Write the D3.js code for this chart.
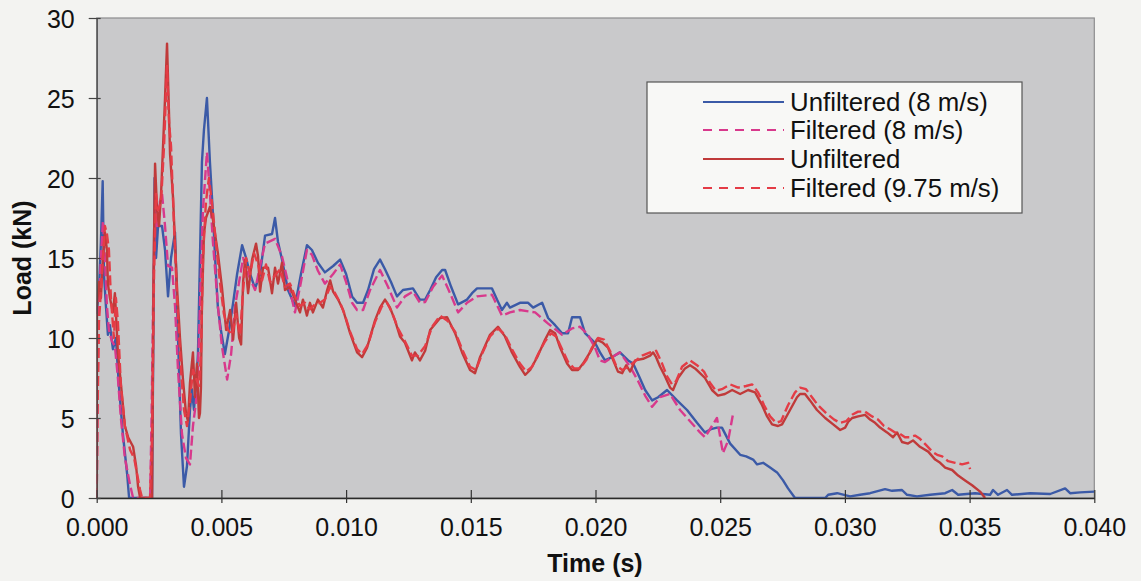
<!DOCTYPE html>
<html>
<head>
<meta charset="utf-8">
<script src="https://cdn.jsdelivr.net/npm/d3@7/dist/d3.min.js"></script>
<style>
  html, body { margin: 0; padding: 0; background: #f3f3f1; }
  svg { display: block; font-family: "Liberation Sans", Arial, sans-serif; }
</style>
</head>
<body>
<svg id="chart" width="1141" height="581"></svg>
<script>
// Load history of the impact tests: time in seconds, load in kN.
const unfiltered8Time = [0, 0.00009, 0.00017, 0.00024, 0.00029, 0.00037, 0.00045, 0.00053, 0.00065, 0.00077,
  0.00089, 0.00105, 0.00122, 0.00130, 0.00222, 0.00226, 0.00232, 0.00238, 0.00246, 0.00254,
  0.00262, 0.00274, 0.00286, 0.00298, 0.00314, 0.00326, 0.00338, 0.00350, 0.00362, 0.00374,
  0.00382, 0.00390, 0.00398, 0.00406, 0.00414, 0.00422, 0.00430, 0.00442, 0.00454, 0.00466,
  0.00478, 0.00486, 0.00498, 0.00514, 0.00531, 0.00547, 0.00563, 0.00583, 0.00599, 0.00615,
  0.00635, 0.00655, 0.00675, 0.00703, 0.00715, 0.00727, 0.00743, 0.00767, 0.00795, 0.00819,
  0.00843, 0.00863, 0.00887, 0.00915, 0.00948, 0.00976, 0.01000, 0.01024, 0.01044, 0.01068,
  0.01088, 0.01112, 0.01136, 0.01156, 0.01180, 0.01204, 0.01228, 0.01268, 0.01296, 0.01317,
  0.01337, 0.01361, 0.01385, 0.01397, 0.01421, 0.01449, 0.01485, 0.01505, 0.01525, 0.01585,
  0.01605, 0.01625, 0.01645, 0.01657, 0.01697, 0.01730, 0.01750, 0.01786, 0.01810, 0.01838,
  0.01866, 0.01890, 0.01906, 0.01938, 0.01958, 0.01998, 0.02018, 0.02038, 0.02066, 0.02098,
  0.02131, 0.02151, 0.02175, 0.02199, 0.02227, 0.02251, 0.02287, 0.02327, 0.02367, 0.02407,
  0.02439, 0.02463, 0.02487, 0.02507, 0.02540, 0.02580, 0.02604, 0.02632, 0.02648, 0.02672,
  0.02700, 0.02728, 0.02752, 0.02772, 0.02800, 0.02921, 0.02933, 0.02969, 0.03021, 0.03061,
  0.03101, 0.03161, 0.03189, 0.03229, 0.03249, 0.03289, 0.03342, 0.03402, 0.03430, 0.03454,
  0.03522, 0.03582, 0.03594, 0.03614, 0.03650, 0.03670, 0.03743, 0.03823, 0.03883, 0.03903,
  0.03943, 0.04000];
const unfiltered8Load = [11.5, 13, 16, 19.8, 14, 12, 10.2, 10.8, 9.3, 10,
  7, 4, 1.5, 0, 0, 8, 20, 15, 17, 17,
  17, 15.5, 12.6, 15, 16.6, 10, 4, 0.7, 2, 5.5,
  6.8, 5.5, 7, 9, 15, 21, 23, 25, 21, 17.8,
  14, 11.9, 10.5, 9, 10.5, 12.2, 14, 15.8, 15, 14,
  13.1, 14, 16.4, 16.5, 17.5, 16, 14.9, 13, 12, 14,
  15.8, 15.5, 14.7, 14.1, 14.5, 14.9, 14, 12.6, 12.2, 12.2,
  13, 14.3, 14.9, 14.3, 13.5, 12.6, 13, 13.1, 12.4, 12.4,
  13, 13.8, 14.25, 14.25, 13.2, 12.1, 12.4, 12.8, 13.1, 13.1,
  12.4, 11.75, 12.2, 11.9, 12.2, 12.2, 11.9, 12.2, 11.25, 10.8,
  10.3, 10.3, 11.3, 11.3, 10.3, 9.7, 9.1, 8.6, 8.8, 9.1,
  8.6, 8.4, 7.6, 6.75, 6.1, 6.3, 6.75, 6.1, 5.5, 4.7,
  4.1, 4.3, 4.4, 4.4, 3.4, 2.7, 2.6, 2.4, 2.1, 2.2,
  1.9, 1.6, 1.1, 0.6, 0, 0, 0.2, 0.3, 0.1, 0.2,
  0.3, 0.55, 0.45, 0.5, 0.2, 0.1, 0.2, 0.3, 0.5, 0.2,
  0.3, 0.2, 0.5, 0.2, 0.5, 0.2, 0.3, 0.25, 0.6, 0.3,
  0.35, 0.4];

const filtered8Time = [0, 0.00003, 0.00009, 0.00017, 0.00025, 0.00033, 0.00041, 0.00049, 0.00061, 0.00073,
  0.00085, 0.00097, 0.00113, 0.00134, 0.00146, 0.00214, 0.00220, 0.00226, 0.00234, 0.00242,
  0.00254, 0.00262, 0.00274, 0.00286, 0.00302, 0.00314, 0.00326, 0.00342, 0.00358, 0.00374,
  0.00386, 0.00398, 0.00406, 0.00414, 0.00426, 0.00442, 0.00454, 0.00466, 0.00486, 0.00502,
  0.00523, 0.00539, 0.00555, 0.00571, 0.00587, 0.00607, 0.00635, 0.00655, 0.00675, 0.00715,
  0.00743, 0.00767, 0.00795, 0.00819, 0.00843, 0.00863, 0.00887, 0.00915, 0.00948, 0.00976,
  0.01000, 0.01024, 0.01044, 0.01068, 0.01096, 0.01136, 0.01168, 0.01204, 0.01236, 0.01268,
  0.01296, 0.01317, 0.01349, 0.01385, 0.01417, 0.01449, 0.01485, 0.01525, 0.01585, 0.01625,
  0.01657, 0.01697, 0.01758, 0.01810, 0.01866, 0.01906, 0.01938, 0.01970, 0.01998, 0.02018,
  0.02038, 0.02066, 0.02098, 0.02139, 0.02171, 0.02199, 0.02227, 0.02259, 0.02299, 0.02339,
  0.02379, 0.02419, 0.02439, 0.02467, 0.02487, 0.02511, 0.02532, 0.02552];
const filtered8Load = [0, 6, 12, 15, 17.3, 15, 12, 10.5, 9.8, 9.5,
  7.5, 5, 2.5, 0.8, 0, 0, 5, 12, 18, 17,
  18.5, 19, 17, 14.5, 14.4, 12, 8, 4, 2.5, 2.1,
  4.5, 6, 8, 12, 18, 21.6, 19, 16, 12, 9.5,
  7.4, 9, 12, 13.5, 15, 14, 13, 14.5, 15.9, 16.2,
  15.1, 13.5, 11.6, 13.5, 15.5, 15.2, 14.2, 13.4, 14, 14.6,
  13.5, 12.2, 11.75, 11.75, 13, 14.25, 13.2, 11.9, 12.6, 12.9,
  12.2, 12.25, 13.2, 13.9, 12.8, 11.6, 12.2, 12.6, 12.7, 11.4,
  11.6, 11.75, 11.6, 10.9, 10.2, 10.6, 10.7, 10.2, 9.4, 8.6,
  8.5, 8.8, 9.1, 8.2, 7.3, 6.4, 5.7, 6.3, 6.5, 5.5,
  4.8, 4.1, 3.8, 4.5, 5, 2.8, 3.6, 5.3];

const unfiltered975Time = [0, 0.00001, 0.00009, 0.00017, 0.00025, 0.00033, 0.00041, 0.00045, 0.00053, 0.00065,
  0.00073, 0.00085, 0.00101, 0.00113, 0.00126, 0.00146, 0.00158, 0.00166, 0.00174, 0.00222,
  0.00228, 0.00234, 0.00242, 0.00250, 0.00258, 0.00266, 0.00274, 0.00282, 0.00290, 0.00294,
  0.00306, 0.00322, 0.00334, 0.00346, 0.00358, 0.00366, 0.00374, 0.00386, 0.00394, 0.00402,
  0.00410, 0.00414, 0.00418, 0.00422, 0.00430, 0.00438, 0.00454, 0.00466, 0.00486, 0.00502,
  0.00519, 0.00535, 0.00547, 0.00559, 0.00571, 0.00579, 0.00587, 0.00595, 0.00607, 0.00623,
  0.00639, 0.00647, 0.00655, 0.00667, 0.00687, 0.00703, 0.00715, 0.00727, 0.00743, 0.00755,
  0.00775, 0.00795, 0.00815, 0.00827, 0.00843, 0.00855, 0.00867, 0.00887, 0.00907, 0.00924,
  0.00936, 0.00948, 0.00968, 0.00988, 0.01016, 0.01044, 0.01064, 0.01084, 0.01116, 0.01136,
  0.01156, 0.01176, 0.01196, 0.01216, 0.01236, 0.01264, 0.01276, 0.01296, 0.01317, 0.01337,
  0.01377, 0.01405, 0.01437, 0.01465, 0.01497, 0.01517, 0.01537, 0.01577, 0.01609, 0.01637,
  0.01665, 0.01697, 0.01718, 0.01738, 0.01766, 0.01798, 0.01818, 0.01838, 0.01858, 0.01886,
  0.01906, 0.01930, 0.01950, 0.01978, 0.02006, 0.02030, 0.02050, 0.02066, 0.02090, 0.02107,
  0.02123, 0.02139, 0.02159, 0.02191, 0.02219, 0.02231, 0.02243, 0.02259, 0.02279, 0.02299,
  0.02311, 0.02331, 0.02359, 0.02379, 0.02399, 0.02419, 0.02439, 0.02467, 0.02491, 0.02519,
  0.02548, 0.02580, 0.02612, 0.02640, 0.02668, 0.02688, 0.02708, 0.02732, 0.02748, 0.02780,
  0.02808, 0.02820, 0.02840, 0.02860, 0.02888, 0.02921, 0.02953, 0.02981, 0.03001, 0.03013,
  0.03029, 0.03053, 0.03081, 0.03101, 0.03121, 0.03141, 0.03169, 0.03193, 0.03209, 0.03229,
  0.03253, 0.03273, 0.03301, 0.03334, 0.03362, 0.03382, 0.03402, 0.03430, 0.03454, 0.03482,
  0.03510, 0.03542, 0.03562];
const unfiltered975Load = [0, 12, 13.5, 12.5, 15, 16.6, 15.5, 13.4, 12.5, 11.6,
  12.8, 9.1, 6.5, 4.5, 3.8, 3.2, 2, 0.7, 0, 0,
  14, 20.9, 18, 17, 19, 22, 25, 28.4, 24, 21.5,
  18.8, 13.2, 10, 7.4, 5.3, 4.8, 7.2, 9.1, 6.3, 8.4,
  5, 5.3, 6.9, 12, 16.5, 17.5, 18.2, 17.4, 15.3, 13.2,
  10.5, 11.75, 9.9, 12.2, 10, 9.6, 13.5, 14.9, 12.8, 14.9,
  15.9, 15.1, 12.9, 14.4, 14.4, 12.8, 14.4, 13.4, 14.7, 13,
  13.2, 12.4, 11.6, 12.4, 11.4, 12.2, 11.6, 12.4, 11.9, 13,
  13.6, 12.9, 12.4, 11.75, 10.3, 9.1, 8.8, 9.4, 11.1, 11.9,
  12.4, 11.9, 11.1, 10.1, 9.7, 8.6, 9.1, 8.6, 9.2, 10.5,
  11.25, 11.3, 10.3, 9.1, 8, 7.8, 8.8, 10.2, 10.7, 10.1,
  9.1, 8.2, 7.7, 8, 8.8, 9.9, 10.5, 10.3, 9.4, 8.4,
  8, 8, 8.4, 9.1, 9.9, 9.7, 9.4, 8.8, 7.9, 7.8,
  8.3, 7.9, 8.6, 8.7, 8.9, 9.1, 8.8, 8.2, 7.6, 6.9,
  6.75, 7.5, 8.1, 8.3, 8.1, 7.8, 7.5, 6.75, 6.4, 6.5,
  6.75, 6.5, 6.75, 6.6, 5.8, 5.1, 4.6, 4.5, 4.6, 5.5,
  6.3, 6.5, 6.5, 6.1, 5.5, 5, 4.6, 4.25, 4.4, 4.75,
  5, 5.1, 5.2, 4.9, 4.7, 4.4, 4.1, 3.8, 4.1, 3.5,
  3.4, 3.6, 3.2, 2.9, 2.4, 2.2, 1.9, 1.75, 1.4, 1.1,
  0.8, 0.4, 0];

const filtered975Time = [0, 0.00003, 0.00009, 0.00021, 0.00033, 0.00041, 0.00049, 0.00057, 0.00069, 0.00077,
  0.00085, 0.00097, 0.00113, 0.00134, 0.00150, 0.00162, 0.00174, 0.00182, 0.00214, 0.00222,
  0.00230, 0.00238, 0.00246, 0.00258, 0.00270, 0.00282, 0.00290, 0.00298, 0.00310, 0.00322,
  0.00338, 0.00350, 0.00362, 0.00374, 0.00386, 0.00398, 0.00410, 0.00418, 0.00426, 0.00438,
  0.00450, 0.00462, 0.00478, 0.00494, 0.00510, 0.00527, 0.00543, 0.00559, 0.00575, 0.00587,
  0.00599, 0.00615, 0.00631, 0.00647, 0.00663, 0.00679, 0.00695, 0.00715, 0.00735, 0.00755,
  0.00775, 0.00795, 0.00815, 0.00835, 0.00855, 0.00875, 0.00895, 0.00915, 0.00936, 0.00956,
  0.00976, 0.00996, 0.01016, 0.01044, 0.01064, 0.01088, 0.01116, 0.01144, 0.01164, 0.01184,
  0.01208, 0.01236, 0.01264, 0.01288, 0.01317, 0.01345, 0.01377, 0.01405, 0.01437, 0.01465,
  0.01497, 0.01521, 0.01545, 0.01577, 0.01609, 0.01637, 0.01665, 0.01697, 0.01722, 0.01746,
  0.01770, 0.01798, 0.01822, 0.01842, 0.01866, 0.01890, 0.01914, 0.01938, 0.01962, 0.01986,
  0.02010, 0.02034, 0.02058, 0.02082, 0.02107, 0.02131, 0.02155, 0.02187, 0.02219, 0.02243,
  0.02267, 0.02287, 0.02307, 0.02323, 0.02347, 0.02379, 0.02407, 0.02435, 0.02459, 0.02483,
  0.02507, 0.02540, 0.02572, 0.02604, 0.02628, 0.02652, 0.02676, 0.02700, 0.02724, 0.02744,
  0.02772, 0.02800, 0.02820, 0.02844, 0.02868, 0.02892, 0.02925, 0.02957, 0.02981, 0.03005,
  0.03029, 0.03053, 0.03081, 0.03109, 0.03133, 0.03157, 0.03181, 0.03201, 0.03221, 0.03241,
  0.03261, 0.03281, 0.03301, 0.03326, 0.03350, 0.03370, 0.03390, 0.03414, 0.03442, 0.03470,
  0.03494, 0.03502];
const filtered975Load = [0, 5, 11, 14, 17, 16.5, 15.5, 12.5, 10, 12.5,
  11, 7, 4.5, 3, 2.5, 1.5, 0.5, 0, 0, 4,
  14, 19, 18, 18.5, 22, 27, 23.5, 22, 17, 12.5,
  8, 5.5, 4.5, 6, 8, 7.5, 7, 9, 15, 18.5,
  20, 18.5, 16, 13.5, 11.5, 10.5, 10.2, 11.5, 10.2, 13,
  15, 14, 15.3, 14.6, 13.6, 14.6, 13.5, 13.9, 14.3, 13.2,
  13.4, 12.6, 12, 12.2, 11.8, 12.1, 12.2, 12.4, 13.2, 12.8,
  12.2, 11.4, 10.4, 9.3, 9, 9.6, 11, 12, 12.2, 11.6,
  10.6, 9.8, 8.9, 8.9, 9.5, 10.7, 11.4, 11.1, 10.4, 9.3,
  8.2, 8, 9, 10.1, 10.6, 10.2, 9.3, 8.4, 7.9, 8.2,
  9, 9.8, 10.3, 10.1, 9.3, 8.5, 8.1, 8.1, 8.6, 9.4,
  10, 9.9, 9.2, 8.3, 8, 8.2, 8.5, 8.9, 9.1, 9.2,
  8.4, 7.6, 7.1, 7.3, 8.2, 8.6, 8.3, 7.9, 7.2, 6.7,
  6.8, 7.1, 6.9, 7, 7.1, 6.6, 5.8, 5.1, 4.7, 4.8,
  5.8, 6.6, 6.9, 6.8, 6.3, 5.8, 5.3, 4.9, 4.7, 4.8,
  5.2, 5.4, 5.4, 5.1, 4.9, 4.5, 4.3, 4.1, 4, 3.8,
  3.8, 3.9, 3.7, 3.3, 2.9, 2.7, 2.6, 2.3, 2.2, 2.1,
  2.2, 1.8];

const seriesNames = ["Unfiltered (8 m/s)", "Filtered (8 m/s)", "Unfiltered", "Filtered (9.75 m/s)"];
const xTickValues = [0, 0.005, 0.010, 0.015, 0.020, 0.025, 0.030, 0.035, 0.040];
const yTickValues = [0, 5, 10, 15, 20, 25, 30];

const series = [
  { name: seriesNames[0], time: unfiltered8Time, load: unfiltered8Load, color: "#3b5aa7", dash: null },
  { name: seriesNames[1], time: filtered8Time, load: filtered8Load, color: "#d8398c", dash: "10,4" },
  { name: seriesNames[2], time: unfiltered975Time, load: unfiltered975Load, color: "#c03a3a", dash: null },
  { name: seriesNames[3], time: filtered975Time, load: filtered975Load, color: "#e43c46", dash: "10,4" }
];

const svg = d3.select("#chart");
const W = 1141, H = 581;
const plot = { left: 96.7, right: 1094.3, top: 18, bottom: 498 };

svg.append("rect").attr("width", W).attr("height", H).attr("fill", "#f3f3f1");

const x = d3.scaleLinear().domain([0, 0.04]).range([plot.left, plot.right]);
const y = d3.scaleLinear().domain([0, 30]).range([plot.bottom, plot.top]);

// Plot area
svg.append("rect")
  .attr("x", plot.left).attr("y", plot.top)
  .attr("width", plot.right - plot.left).attr("height", plot.bottom - plot.top)
  .attr("fill", "#c9c9cb").attr("stroke", "#8c8c8e").attr("stroke-width", 1.2);

svg.append("clipPath").attr("id", "plotClip")
  .append("rect")
  .attr("x", plot.left).attr("y", plot.top - 2)
  .attr("width", plot.right - plot.left).attr("height", plot.bottom - plot.top + 2);

const line = d3.line()
  .x(d => x(d[0]))
  .y(d => y(d[1]));

const lines = svg.append("g").attr("clip-path", "url(#plotClip)");
series.forEach(s => {
  const pts = s.time.map((t, i) => [t, s.load[i]]);
  lines.append("path")
    .datum(pts)
    .attr("d", line)
    .attr("fill", "none")
    .attr("stroke", s.color)
    .attr("stroke-width", 2.4)
    .attr("stroke-linejoin", "round")
    .attr("stroke-dasharray", s.dash);
});

// Axes
const fontSize = 25;
const xAxis = svg.append("g")
  .attr("transform", `translate(0,${plot.bottom})`)
  .call(d3.axisBottom(x).tickValues(xTickValues).tickFormat(d3.format(".3f")).tickSizeOuter(0));
xAxis.select(".domain").attr("stroke", "#2a2a2a").attr("stroke-width", 1.5);
xAxis.selectAll(".tick line").attr("y1", -8).attr("y2", 5).attr("stroke", "#333").attr("stroke-width", 1.2);
xAxis.selectAll(".tick text")
  .attr("y", 20).attr("dy", "0.71em")
  .attr("font-size", fontSize).attr("font-family", "Liberation Sans, Arial, sans-serif")
  .attr("fill", "#111");

const yAxis = svg.append("g")
  .attr("transform", `translate(${plot.left},0)`)
  .call(d3.axisLeft(y).tickValues(yTickValues).tickFormat(d3.format("d")).tickSizeOuter(0));
yAxis.select(".domain").attr("stroke", "#444").attr("stroke-width", 1.2);
yAxis.selectAll(".tick line").attr("x1", -8).attr("x2", 4).attr("stroke", "#444").attr("stroke-width", 1.2);
yAxis.selectAll(".tick text")
  .attr("x", -22).attr("dy", "0.36em")
  .attr("font-size", fontSize).attr("font-family", "Liberation Sans, Arial, sans-serif")
  .attr("fill", "#111");

// Axis titles
svg.append("text")
  .attr("x", 595).attr("y", 572)
  .attr("text-anchor", "middle")
  .attr("font-size", 25).attr("font-weight", "bold").attr("fill", "#111")
  .text("Time (s)");

svg.append("text")
  .attr("transform", "translate(31,258) rotate(-90)")
  .attr("text-anchor", "middle")
  .attr("font-size", 25).attr("font-weight", "bold").attr("fill", "#111")
  .text("Load (kN)");

// Legend
const legend = svg.append("g");
legend.append("rect")
  .attr("x", 647).attr("y", 82).attr("width", 375).attr("height", 131)
  .attr("fill", "#f8f8f6").attr("stroke", "#555").attr("stroke-width", 1.2);
const rowY = [102, 130, 159, 188];
series.forEach((s, i) => {
  legend.append("line")
    .attr("x1", 703).attr("x2", 784)
    .attr("y1", rowY[i]).attr("y2", rowY[i])
    .attr("stroke", s.color).attr("stroke-width", 2)
    .attr("stroke-dasharray", s.dash ? "9,7" : null);
  legend.append("text")
    .attr("x", 790).attr("y", rowY[i])
    .attr("dy", "0.35em")
    .attr("font-size", 25.8).attr("fill", "#111")
    .text(s.name);
});
</script>
</body>
</html>
